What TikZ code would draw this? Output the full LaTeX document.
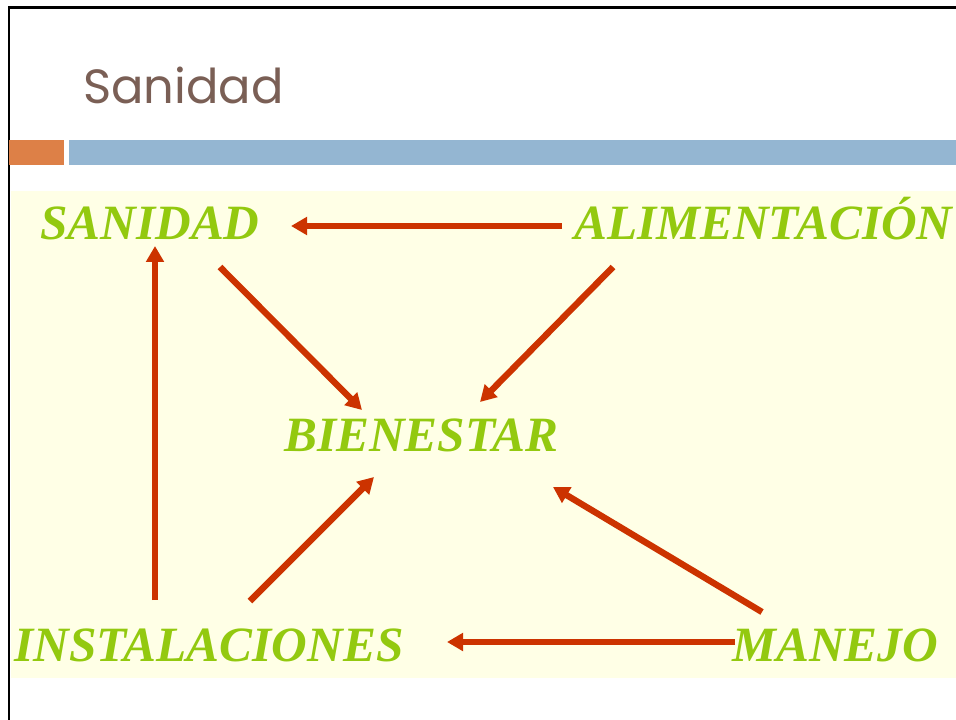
\documentclass[tikz,border=0pt]{standalone}
\usepackage{fontspec}
\setmainfont{Liberation Serif}
\newfontfamily\titlefont{Poppins}
\usetikzlibrary{arrows.meta}
\definecolor{titlebrown}{HTML}{7A5F55}
\definecolor{barorange}{HTML}{DD8047}
\definecolor{barblue}{HTML}{94B6D2}
\definecolor{cream}{HTML}{FFFFE6}
\definecolor{leafgreen}{HTML}{93C90F}
\definecolor{arrowred}{HTML}{CC3300}
\tikzset{
  word/.style={anchor=base west, inner sep=0pt, text=leafgreen, font=\fontsize{37}{42}\selectfont\bfseries\itshape},
  link/.style={draw=arrowred, line width=4.8pt, -{Triangle[length=12pt,width=13pt]}},
}
\begin{document}
\begin{tikzpicture}[x=0.75pt,y=-0.75pt]
\useasboundingbox (0,0) rectangle (956,720);
\fill[white] (0,0) rectangle (956,720);
% frame
\draw[black, line width=1.6pt] (9,720) -- (9,7.5) -- (956,7.5);
% title
\node[anchor=base west, inner sep=0pt, text=titlebrown, font=\titlefont\fontsize{36}{40}\selectfont] (title) at (83,104) {Sanidad};
% bars
\fill[barorange] (9,140) rectangle (64,165);
\fill[barblue] (69,140) rectangle (956,165);
% cream panel
\fill[cream] (11,191) rectangle (956,678);
% words
\node[word] (san) at (40,240) {SANIDAD};
\node[word] (ali) at (574,240) {ALIMENTACIÓN};
\node[word] (bie) at (284,451) {BIENESTAR};
\node[word] (ins) at (14,661) {INSTALACIONES};
\node[word] (man) at (732,661) {MANEJO};
% arrow end points
\coordinate (aliW) at (562,226);
\coordinate (sanE) at (291,226);
\coordinate (sanSE) at (220,267);
\coordinate (bieNW) at (362,410);
\coordinate (aliSW) at (613,267);
\coordinate (bieNE) at (480,402);
\coordinate (insN) at (155,600);
\coordinate (sanS) at (155,246);
\coordinate (insNE) at (250,601);
\coordinate (bieSW) at (374,477);
\coordinate (manNW) at (762,612);
\coordinate (bieSE) at (553,487);
\coordinate (manW) at (735,642);
\coordinate (insE) at (447,642);
% arrows
\draw[link] (aliW) -- (sanE);
\draw[link] (sanSE) -- (bieNW);
\draw[link] (aliSW) -- (bieNE);
\draw[link] (insN) -- (sanS);
\draw[link] (insNE) -- (bieSW);
\draw[link] (manNW) -- (bieSE);
\draw[link] (manW) -- (insE);
\end{tikzpicture}
\end{document}
